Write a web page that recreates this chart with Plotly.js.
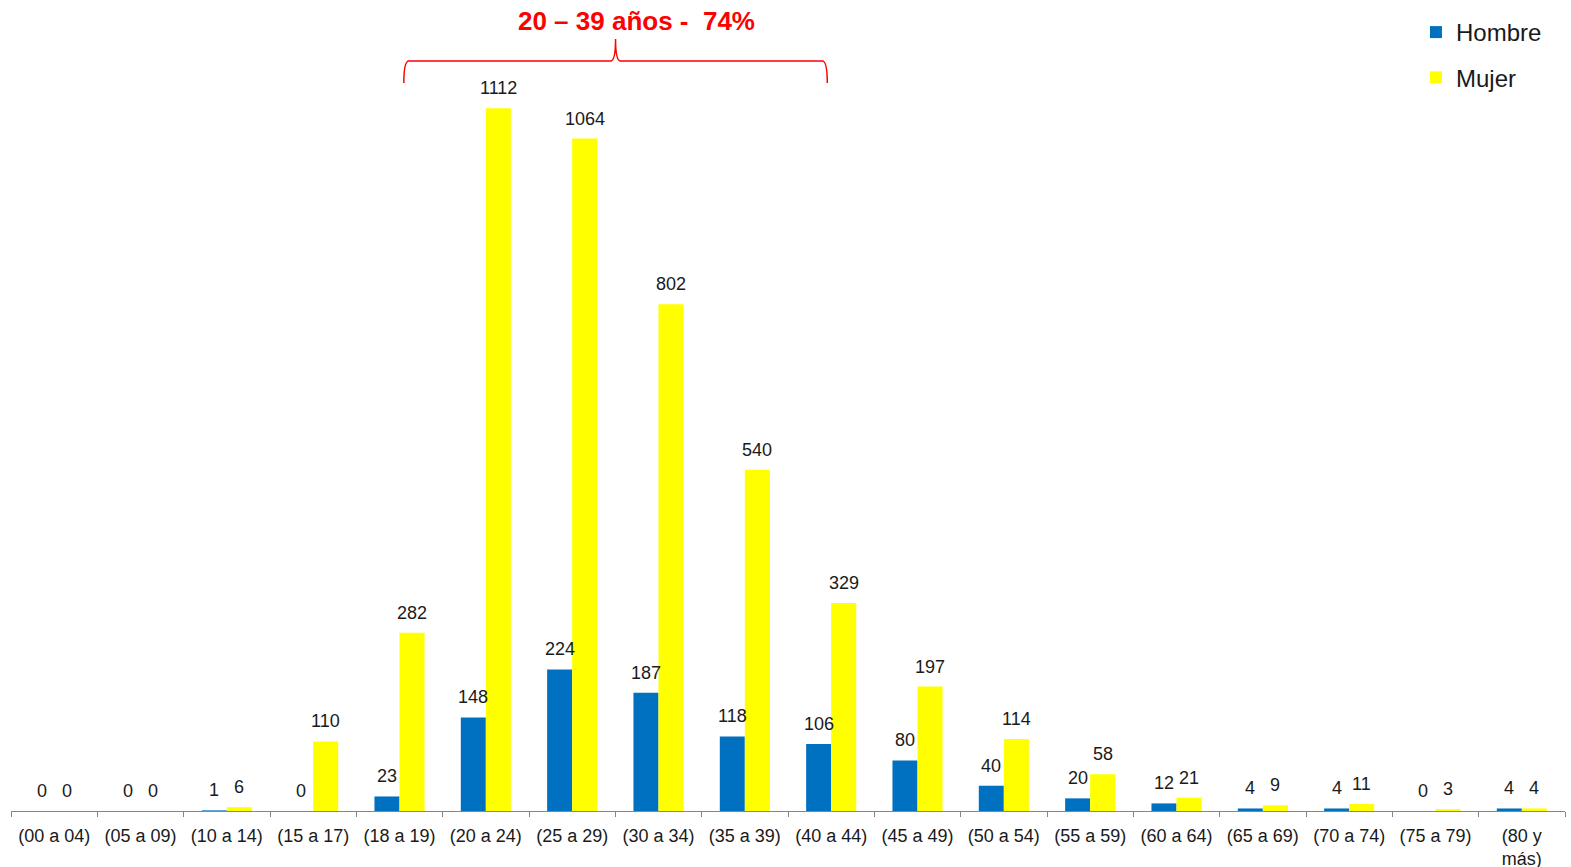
<!DOCTYPE html>
<html>
<head>
<meta charset="utf-8">
<script src="https://cdn.plot.ly/plotly-3.0.1.min.js"></script>
<style>html,body{margin:0;padding:0;background:#fff}#chart{width:1571px;height:867px}</style>
</head>
<body>
<div id="chart"></div>
<script>
var categories = ["(00 a 04)","(05 a 09)","(10 a 14)","(15 a 17)","(18 a 19)","(20 a 24)","(25 a 29)","(30 a 34)","(35 a 39)","(40 a 44)","(45 a 49)","(50 a 54)","(55 a 59)","(60 a 64)","(65 a 69)","(70 a 74)","(75 a 79)","(80 y<br>más)"];
var hombre = [0,0,1,0,23,148,224,187,118,106,80,40,20,12,4,4,0,4];
var mujer  = [0,0,6,110,282,1112,1064,802,540,329,197,114,58,21,9,11,3,4];
var seriesNames = ["Hombre","Mujer"];
var titleText = "20 – 39 años -\u00A0 74%";
var bracketFrom = "(18 a 19)", bracketTo = "(40 a 44)";

var FONT = "Arial, 'Liberation Sans', sans-serif";
var traces = [
  {type:"bar", name:seriesNames[0], x:categories, y:hombre, marker:{color:"#0070C0"}, legendgroup:"h", hoverinfo:"x+y"},
  {type:"bar", name:seriesNames[1], x:categories, y:mujer, marker:{color:"#FFFF00"}, legendgroup:"m", hoverinfo:"x+y"}
];

var annotations = [];
[hombre, mujer].forEach(function(arr, s){
  arr.forEach(function(v, i){
    annotations.push({x:categories[i], y:v, xref:"x", yref:"y", text:String(v), showarrow:false,
      xshift: s===0 ? -12.5 : 12.5, yshift:20, yanchor:"middle", xanchor:"center",
      font:{family:FONT, size:18, color:"#1a1a1a"}});
  });
});

// bracket spanning the 20–39 groups (paper x computed from category positions)
var n = categories.length;
var iL = categories.indexOf(bracketFrom) + 0.05, iR = categories.indexOf(bracketTo) - 0.045;
var pxL = (iL+0.5)/n, pxR = (iR+0.5)/n, pxM = (pxL+pxR)/2;
var plotTop = 40, plotBottom = 811, plotH = plotBottom - plotTop;
function py(p){ return (plotBottom - p)/plotH; }
var d = 5/1554;
var yb = py(83), yh = py(61), yt = py(39);
var path = "M"+pxL+","+yb+" Q"+pxL+","+yh+" "+(pxL+d)+","+yh+" L"+(pxM-d)+","+yh+" Q"+pxM+","+yh+" "+pxM+","+yt+
           " Q"+pxM+","+yh+" "+(pxM+d)+","+yh+" L"+(pxR-d)+","+yh+" Q"+pxR+","+yh+" "+pxR+","+yb;

var layout = {
  width:1571, height:867,
  margin:{l:11, r:6, t:plotTop, b:867-plotBottom, autoexpand:false},
  paper_bgcolor:"#fff", plot_bgcolor:"#fff",
  barmode:"group", bargap:0.42, bargroupgap:0,
  font:{family:FONT, color:"#1a1a1a"},
  title:{text:"<b>"+titleText+"</b>", font:{family:FONT, size:26, color:"#FF0000"},
         xref:"paper", x:0.4025, xanchor:"center", yref:"container", y:1-21/867, yanchor:"middle"},
  xaxis:{type:"category", showline:true, linecolor:"#868686", linewidth:1, ticks:"outside", ticklen:5,
         tickcolor:"#868686", tickson:"boundaries", showgrid:false, zeroline:false, ticklabelstandoff:8,
         tickfont:{family:FONT, size:18, color:"#1a1a1a"}, fixedrange:true},
  yaxis:{visible:false, range:[0, plotH/0.632], showgrid:false, zeroline:false, fixedrange:true},
  legend:{x:0.9041, xanchor:"left", yref:"paper", y:(plotBottom-10)/plotH, yanchor:"top", tracegroupgap:11,
          font:{family:FONT, size:24, color:"#1a1a1a"}, bgcolor:"rgba(0,0,0,0)"},
  showlegend:true,
  annotations:annotations,
  shapes:[{type:"path", xref:"paper", yref:"paper", path:path, line:{color:"#FF0000", width:1.5}}]
};
Plotly.newPlot("chart", traces, layout, {displayModeBar:false, staticPlot:true});
</script>
</body>
</html>
